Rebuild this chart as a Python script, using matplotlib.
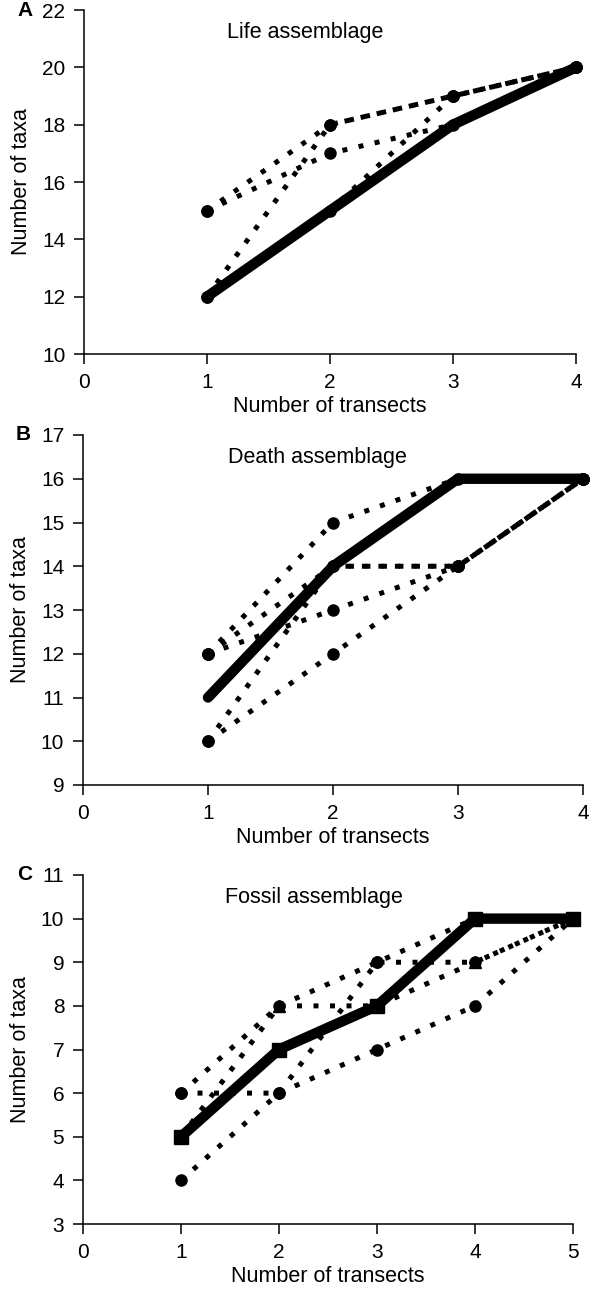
import matplotlib
matplotlib.use("Agg")
import matplotlib.pyplot as plt

plt.rcParams["font.family"] = ["Liberation Sans", "DejaVu Sans"]

# ---- Life assemblage ----
life_x = [1, 2, 3, 4]
life_mean = [12, 15, 18, 20]
life_run1 = [15, 18, 19, 20]
life_run2 = [15, 17, 18, 20]
life_run3 = [12, 18, 19, 20]
life_run4 = [12, 15, 19, 20]

# ---- Death assemblage ----
death_x = [1, 2, 3, 4]
death_mean = [11, 14, 16, 16]
death_run1 = [12, 15, 16, 16]
death_run2 = [12, 14, 14, 16]
death_run3 = [12, 13, 14, 16]
death_run4 = [10, 14, 14, 16]
death_run5 = [10, 12, 14, 16]

# ---- Fossil assemblage ----
fossil_x = [1, 2, 3, 4, 5]
fossil_mean = [5, 7, 8, 10, 10]
fossil_run1 = [4, 6, 7, 8, 10]
fossil_run2 = [6, 6, 9, 9, 10]
fossil_run3 = [6, 8, 9, 10, 10]
fossil_run4 = [5, 8, 8, 9, 10]

W, H = 600, 1295
fig = plt.figure(figsize=(W / 100, H / 100), dpi=100)


def px_axes(left, right, top, bottom):
    return fig.add_axes([left / W, 1 - bottom / H, (right - left) / W, (bottom - top) / H])


DOT = dict(color="black", lw=3.6, linestyle=(0, (1, 2.3)), dash_capstyle="butt",
           markersize=8, clip_on=False, zorder=3)
SOLID = dict(color="black", lw=7.5, solid_capstyle="round", solid_joinstyle="round",
             clip_on=False, zorder=2)


def style_axes(ax, xmax, ylo, yhi, letter, title):
    ax.set_xlim(0, xmax)
    ax.set_ylim(ylo, yhi)
    ax.set_xticks(range(0, xmax + 1))
    ax.set_yticks(range(ylo, yhi + 1, 2 if yhi - ylo > 8 else 1))
    for s in ("top", "right"):
        ax.spines[s].set_visible(False)
    for s in ("left", "bottom"):
        ax.spines[s].set_linewidth(1.1)
    ax.tick_params(direction="out", length=7.5, width=1.1, pad=6, labelsize=15)
    ax.set_xlabel("Number of transects", fontsize=15.5, labelpad=3)
    ax.set_ylabel("Number of taxa", fontsize=15.5, labelpad=7)
    ax.text(0.29, 0.935, title, transform=ax.transAxes, fontsize=15.5,
            ha="left", va="center")
    ax.text(-0.135, 1.0, letter, transform=ax.transAxes, fontsize=15,
            fontweight="bold", ha="left", va="center")


# Panel A
axA = px_axes(84, 576, 10, 354)
axA.plot(life_x, life_mean, **SOLID)
for run in (life_run1, life_run2, life_run3, life_run4):
    axA.plot(life_x, run, marker="o", **DOT)
style_axes(axA, 4, 10, 22, "A", "Life assemblage")

# Panel B
axB = px_axes(83, 583, 435, 785)
axB.plot(death_x, death_mean, **SOLID)
for run in (death_run1, death_run2, death_run3, death_run4, death_run5):
    axB.plot(death_x, run, marker="o", **DOT)
style_axes(axB, 4, 9, 17, "B", "Death assemblage")

# Panel C
axC = px_axes(83, 573, 875, 1224)
axC.plot(fossil_x, fossil_mean, marker="s", markersize=10, **SOLID)
for run, mk in ((fossil_run1, "o"), (fossil_run2, "o"), (fossil_run3, "o"), (fossil_run4, "^")):
    axC.plot(fossil_x, run, marker=mk, **DOT)
style_axes(axC, 5, 3, 11, "C", "Fossil assemblage")

fig.savefig("out.png", dpi=100)
